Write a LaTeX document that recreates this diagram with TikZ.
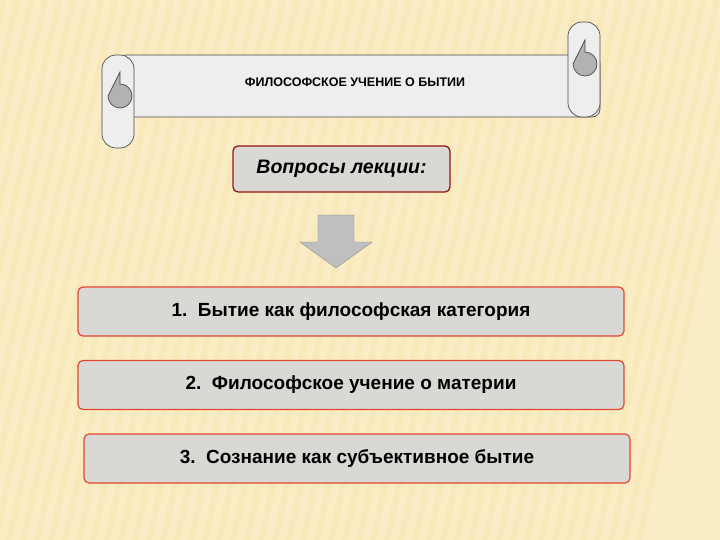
\documentclass[tikz,border=0pt]{standalone}
\usepackage{fontspec}
\setmainfont{Liberation Sans}
\definecolor{bg}{RGB}{250,236,196}
\definecolor{bgs}{RGB}{246,226,170}
\definecolor{redb}{RGB}{225,70,50}
\definecolor{darkred}{RGB}{150,20,20}
\definecolor{boxf}{RGB}{218,216,212}
\definecolor{scrollf}{RGB}{238,238,238}
\tikzset{
  item/.style={draw=redb, line width=1.2pt, fill=boxf, rounded corners=5pt, minimum width=546pt, minimum height=49pt, font=\bfseries\fontsize{19}{21}\selectfont, inner sep=0pt},
  roll/.style={draw=black!70, line width=0.7pt, fill=scrollf},
  curl/.style={draw=black!70, line width=0.7pt, fill=black!30}
}
\begin{document}
\begin{tikzpicture}[x=1pt,y=-1pt]
\useasboundingbox (0,0) rectangle (720,540);
\fill[bg] (0,0) rectangle (720,540);
\foreach \i in {0,14,...,760}{
  \fill[bgs, opacity=0.35] (\i-120,540) -- (\i-114,540) -- (\i+6,0) -- (\i,0) -- cycle;
}
% scroll
\draw[roll, rounded corners=8pt] (118,55) rectangle (600,117);
\draw[roll, rounded corners=14pt] (102,55) rectangle (134,148);
\draw[roll, rounded corners=14pt] (568,22) rectangle (600,117);
\draw[curl] (120,84) arc[start angle=-90, end angle=180, radius=12] -- (120,72) -- cycle;
\draw[curl] (585,52) arc[start angle=-90, end angle=180, radius=12] -- (585,40) -- cycle;
\node[font=\bfseries\fontsize{12.5}{14}\selectfont] (title) at (355,82) {ФИЛОСОФСКОЕ УЧЕНИЕ О БЫТИИ};
% questions
\node[draw=darkred, line width=1.3pt, fill=boxf, rounded corners=5pt, minimum width=217pt, minimum height=46pt, font=\bfseries\itshape\fontsize{19.5}{21}\selectfont] (q) at (341.5,169) {Вопросы лекции:};
% arrow
\draw[draw=black!45, fill=black!25] (318,215) -- (354,215) -- (354,242) -- (372,242) -- (336,268) -- (300,242) -- (318,242) -- cycle;
% items
\node[item] (i1) at (351,311.5) {1.\ \ Бытие как философская категория};
\node[item] (i2) at (351,385) {2.\ \ Философское учение о материи};
\node[item] (i3) at (357,458.5) {3.\ \ Сознание как субъективное бытие};
\end{tikzpicture}
\end{document}
